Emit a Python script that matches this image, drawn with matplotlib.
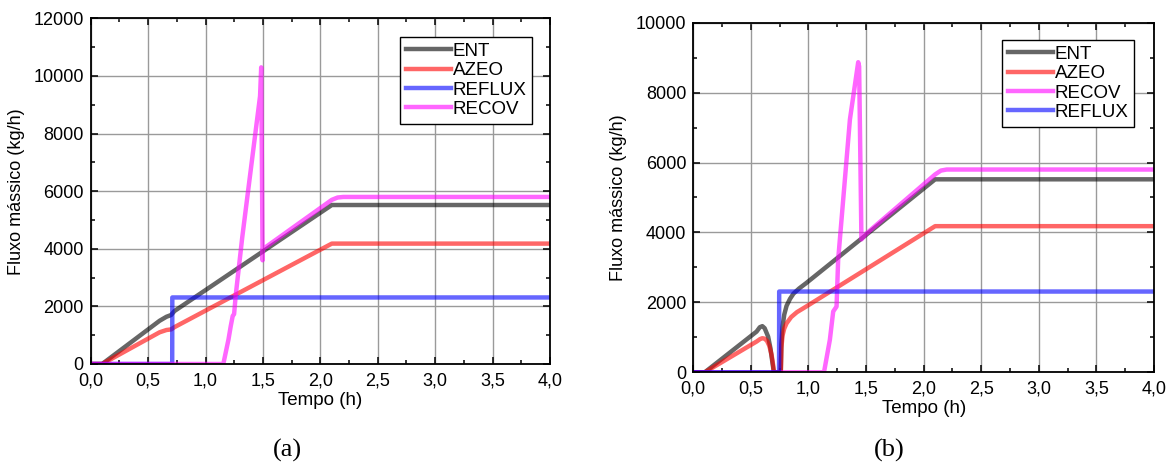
import matplotlib
matplotlib.use("Agg")
import matplotlib.pyplot as plt
from matplotlib.ticker import MultipleLocator

plt.rcParams["font.family"] = ["Liberation Sans", "DejaVu Sans"]

# --- (a) flow rates vs time ---
a_ent_t = [0.0, 0.10, 0.60, 0.66, 0.70, 0.73, 2.10, 4.00]
a_ent_v = [0, 0, 1500, 1640, 1700, 1840, 5520, 5520]
a_azeo_t = [0.0, 0.10, 0.60, 0.66, 0.70, 0.73, 2.10, 4.00]
a_azeo_v = [0, 0, 1100, 1180, 1200, 1280, 4180, 4180]
a_reflux_t = [0.0, 0.71, 0.711, 4.00]
a_reflux_v = [0, 0, 2310, 2310]
a_recov_t = [0.0, 1.155, 1.20, 1.22, 1.237, 1.249, 1.263, 1.32, 1.475, 1.485, 1.497, 1.50,
             2.10, 2.15, 2.20, 4.00]
a_recov_v = [0, 0, 850, 1320, 1670, 1730, 2380, 4400, 9300, 10300, 3600, 3990,
             5700, 5780, 5800, 5800]

# --- (b) flow rates vs time ---
b_ent_t = [0.0, 0.10, 0.55, 0.578, 0.60, 0.62, 0.65, 0.67, 0.688, 0.70, 0.76, 0.765,
           0.775, 0.79, 0.81, 0.84, 0.87, 0.92, 0.98, 2.10, 4.00]
b_ent_v = [0, 0, 1165, 1290, 1320, 1260, 1020, 690, 260, 0, 0, 800,
           1300, 1650, 1900, 2100, 2250, 2400, 2550, 5520, 5520]
b_azeo_t = [0.0, 0.10, 0.55, 0.58, 0.60, 0.62, 0.64, 0.66, 0.68, 0.693, 0.70, 0.76, 0.765,
            0.775, 0.79, 0.81, 0.85, 0.90, 0.98, 2.10, 4.00]
b_azeo_v = [0, 0, 880, 950, 975, 960, 900, 760, 500, 220, 0, 0, 700,
            1050, 1250, 1400, 1580, 1720, 1880, 4180, 4180]
b_recov_t = [0.0, 1.135, 1.186, 1.215, 1.244, 1.258, 1.36, 1.432, 1.44, 1.46, 1.50,
             2.10, 2.15, 2.20, 4.00]
b_recov_v = [0, 0, 930, 1740, 1880, 3220, 7230, 8870, 8750, 3800, 3960,
             5660, 5770, 5800, 5800]
b_reflux_t = [0.0, 0.745, 0.746, 4.00]
b_reflux_v = [0, 0, 2310, 2310]

xticks = [0.0, 0.5, 1.0, 1.5, 2.0, 2.5, 3.0, 3.5, 4.0]
xticklabels = ["0,0", "0,5", "1,0", "1,5", "2,0", "2,5", "3,0", "3,5", "4,0"]

C_ENT, C_AZEO, C_REFLUX, C_RECOV = "black", "red", "blue", "magenta"
ALPHA, LW = 0.6, 3.2

fig = plt.figure(figsize=(11.76, 4.69), dpi=100)
ax_a = fig.add_axes([0.0771, 0.2239, 0.3906, 0.7369])
ax_b = fig.add_axes([0.5895, 0.2062, 0.3918, 0.7454])


def style(ax, ymax, ystep):
    ax.set_xlim(0, 4.0)
    ax.set_ylim(0, ymax)
    ax.set_xticks(xticks)
    ax.set_xticklabels(xticklabels)
    ax.xaxis.set_minor_locator(MultipleLocator(0.25))
    ax.yaxis.set_major_locator(MultipleLocator(ystep))
    ax.yaxis.set_minor_locator(MultipleLocator(ystep / 2))
    ax.tick_params(which="both", direction="in", top=True, right=True, labelsize=13)
    ax.tick_params(which="major", length=5, width=1.1)
    ax.tick_params(which="minor", length=3, width=1.1)
    ax.tick_params(axis="x", which="major", pad=6)
    ax.tick_params(axis="y", which="major", pad=5)
    ax.grid(True, which="major", color="#9a9a9a", lw=1.0)
    for s in ax.spines.values():
        s.set_linewidth(1.3)
    ax.set_xlabel("Tempo (h)", fontsize=13.5, labelpad=2)
    ax.set_ylabel("Fluxo mássico (kg/h)", fontsize=13, labelpad=6)
    ax.set_axisbelow(True)


ax_a.plot(a_ent_t, a_ent_v, color=C_ENT, alpha=ALPHA, lw=LW, label="ENT")
ax_a.plot(a_azeo_t, a_azeo_v, color=C_AZEO, alpha=ALPHA, lw=LW, label="AZEO")
ax_a.plot(a_reflux_t, a_reflux_v, color=C_REFLUX, alpha=ALPHA, lw=LW, label="REFLUX")
ax_a.plot(a_recov_t, a_recov_v, color=C_RECOV, alpha=ALPHA, lw=LW, label="RECOV")
style(ax_a, 12000, 2000)

ax_b.plot(b_ent_t, b_ent_v, color=C_ENT, alpha=ALPHA, lw=LW, label="ENT")
ax_b.plot(b_azeo_t, b_azeo_v, color=C_AZEO, alpha=ALPHA, lw=LW, label="AZEO")
ax_b.plot(b_recov_t, b_recov_v, color=C_RECOV, alpha=ALPHA, lw=LW, label="RECOV")
ax_b.plot(b_reflux_t, b_reflux_v, color=C_REFLUX, alpha=ALPHA, lw=LW, label="REFLUX")
style(ax_b, 10000, 2000)

for ax, anchor in ((ax_a, (0.961, 0.946)), (ax_b, (0.957, 0.95))):
    leg = ax.legend(loc="upper right", bbox_to_anchor=anchor, fontsize=13.5, frameon=True,
                    fancybox=False, edgecolor="black", framealpha=1, handlelength=2.4,
                    handletextpad=0.1, labelspacing=0.12, borderpad=0.3, borderaxespad=0)
    leg.get_frame().set_linewidth(1.0)

fig.text(0.244, 0.026, "(a)", fontsize=19, family="Liberation Serif", ha="center")
fig.text(0.756, 0.026, "(b)", fontsize=19, family="Liberation Serif", ha="center")

fig.savefig("out.png", dpi=100)
